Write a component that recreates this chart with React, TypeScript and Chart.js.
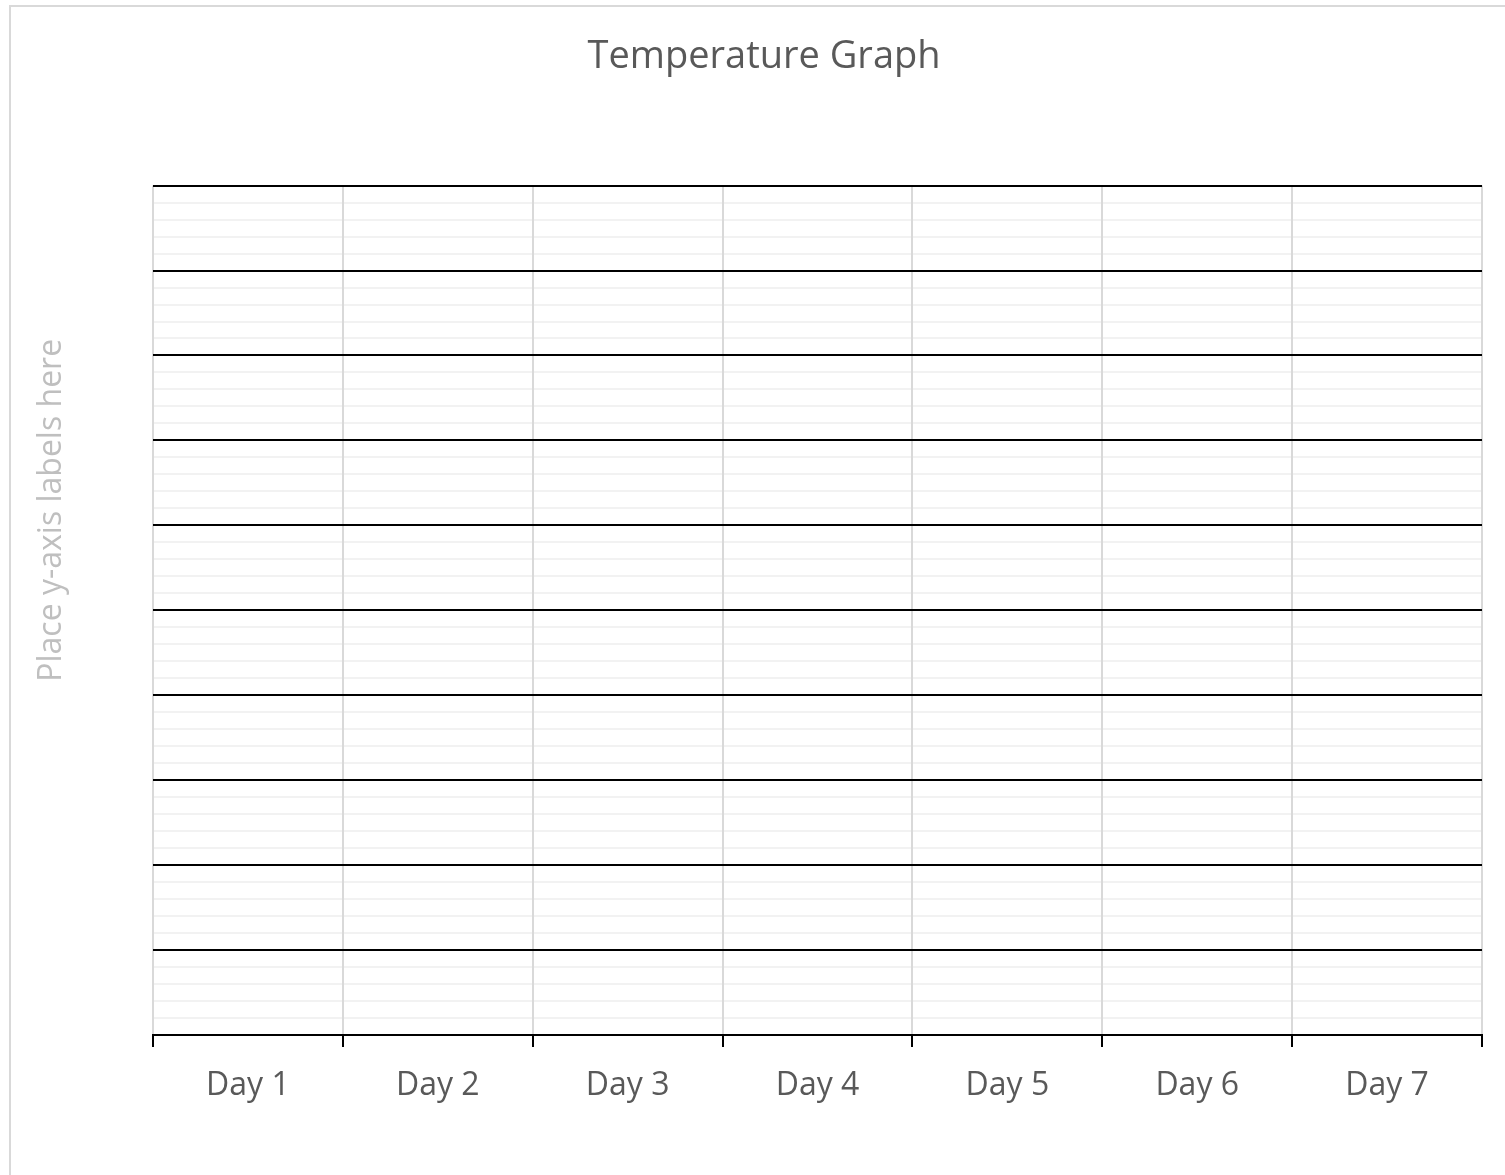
import React, { useEffect, useRef } from "react";
import { Chart, registerables } from "chart.js";

Chart.register(...registerables);

const chartTitle = "Temperature Graph";
const yAxisTitle = "Place y-axis labels here";
const days = ["Day 1", "Day 2", "Day 3", "Day 4", "Day 5", "Day 6", "Day 7"];
const temperatures: (number | null)[] = [null, null, null, null, null, null, null];
const yMin = 0;
const yMax = 50;
const yMinorStep = 1;
const yMajorStep = 5;

const FONT = "'Open Sans', sans-serif";

const yTitlePlugin = {
  id: "yTitleCustom",
  afterDraw(chart: any) {
    const { ctx, chartArea } = chart;
    ctx.save();
    ctx.font = `32px ${FONT}`;
    ctx.fillStyle = "#bfbfbf";
    ctx.textAlign = "center";
    ctx.textBaseline = "middle";
    const x = chartArea.left - 101;
    const y = (chartArea.top + chartArea.bottom) / 2 - 100;
    ctx.translate(x, y);
    ctx.rotate(-Math.PI / 2);
    ctx.fillText(yAxisTitle, 0, 0);
    ctx.restore();
  },
};

export default function App() {
  const ref = useRef<HTMLCanvasElement | null>(null);

  useEffect(() => {
    if (!ref.current) return;
    const chart = new Chart(ref.current, {
      type: "line",
      data: {
        labels: days,
        datasets: [
          {
            label: "Temperature",
            data: temperatures,
            yAxisID: "y",
            borderColor: "#4472c4",
            backgroundColor: "#4472c4",
          },
        ],
      },
      options: {
        responsive: false,
        animation: false,
        layout: { padding: { left: 35, right: 35, top: 0, bottom: 0 } },
        plugins: {
          legend: { display: false },
          tooltip: { enabled: false },
          title: {
            display: true,
            text: chartTitle,
            color: "#595959",
            font: { family: FONT, size: 38, weight: "normal" },
            padding: { top: 27, bottom: 106 },
          },
        },
        scales: {
          x: {
            type: "category",
            offset: true,
            grid: {
              offset: true,
              color: "#d9d9d9",
              lineWidth: 2,
              drawTicks: true,
              tickLength: 12,
              tickColor: "#000000",
              tickWidth: 2,
              z: -2,
            },
            border: { display: true, color: "#000000", width: 2, z: 0 },
            ticks: {
              color: "#595959",
              font: { family: FONT, size: 32 },
              padding: 20,
              maxRotation: 0,
            },
            afterFit(scale: any) {
              scale.height = 158;
            },
          },
          yMinor: {
            type: "linear",
            axis: "y",
            position: "left",
            min: yMin,
            max: yMax,
            grid: {
              drawTicks: false,
              color: (c: any) =>
                c.tick && c.tick.value % yMajorStep === 0 ? "rgba(0,0,0,0)" : "#f2f2f2",
              lineWidth: 2,
              z: -3,
            },
            border: { display: false },
            ticks: {
              display: false,
              stepSize: yMinorStep,
              maxTicksLimit: 200,
              font: { size: 8 },
            },
            afterFit(scale: any) {
              scale.width = 0;
            },
          },
          y: {
            type: "linear",
            position: "left",
            min: yMin,
            max: yMax,
            grid: {
              drawTicks: false,
              color: "#000000",
              lineWidth: 2,
              z: -1,
            },
            border: { display: false },
            ticks: {
              display: false,
              stepSize: yMajorStep,
              maxTicksLimit: 200,
              font: { size: 8 },
            },
            afterFit(scale: any) {
              scale.width = 107;
            },
          },
        },
      },
      plugins: [yTitlePlugin],
    } as any);
    return () => chart.destroy();
  }, []);

  return (
    <div
      style={{
        position: "fixed",
        left: 0,
        top: 0,
        width: 1505,
        height: 1175,
        overflow: "hidden",
        background: "#ffffff",
      }}
    >
      <div
        style={{
          position: "absolute",
          left: 9,
          top: 5,
          width: 1510,
          height: 1190,
          border: "2px solid #d9d9d9",
          boxSizing: "border-box",
          background: "#ffffff",
        }}
      >
        <canvas ref={ref} width={1506} height={1186} style={{ display: "block" }} />
      </div>
    </div>
  );
}
